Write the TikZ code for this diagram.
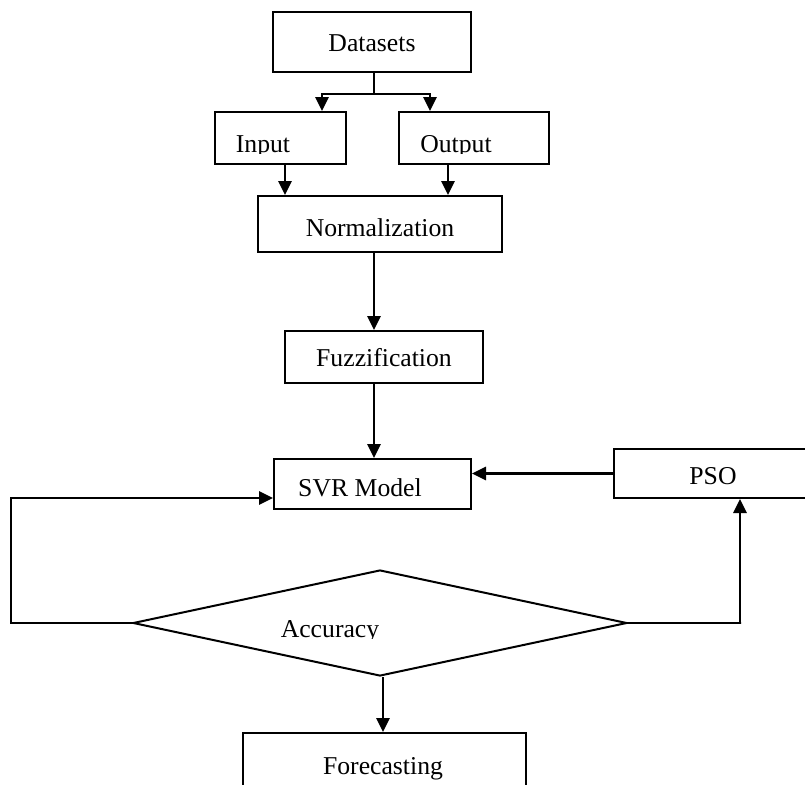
\documentclass[tikz,border=0pt]{standalone}
\usepackage{fontspec}
\setmainfont{Liberation Serif}
\usetikzlibrary{arrows.meta,shapes.geometric}
\begin{document}
\begin{tikzpicture}[x=1pt,y=-1pt,
  every node/.style={font=\fontsize{25.7}{30}\selectfont},
  box/.style={draw,line width=2pt,rectangle,inner sep=0pt},
  txt/.style={inner sep=0pt,anchor=base},
  arr/.style={line width=2.8pt,-{Triangle[width=13pt,length=14pt]}},
  ln/.style={line width=2.8pt}]
\useasboundingbox (0,0) rectangle (805,784);
\clip (0,0) rectangle (805,784);
% boxes
\node[box,minimum width=198,minimum height=60] (data) at (372,42) {};
\node[txt] (datat) at (372,52) {Datasets};
\node[box,minimum width=131,minimum height=52] (inp) at (280.5,138) {};
\node[box,minimum width=150,minimum height=52] (out) at (474,138) {};
\node[box,minimum width=244,minimum height=56] (norm) at (379.5,224) {};
\node[txt] (normt) at (380,236) {Normalization};
\node[box,minimum width=198,minimum height=52] (fuzz) at (384,357) {};
\node[txt] (fuzzt) at (384,366) {Fuzzification};
\node[box,minimum width=197,minimum height=50] (svr) at (372.5,484) {};
\node[txt] (svrt) at (360,496) {SVR Model};
\node[box,minimum width=200,minimum height=49] (pso) at (714,473.5) {};
\node[txt] (psot) at (713,484) {PSO};
\node[box,minimum width=283,minimum height=70] (fore) at (384.5,768) {};
\node[txt] (foret) at (383,774) {Forecasting};
\node[draw,line width=2pt,diamond,inner sep=0pt,minimum width=494,minimum height=106] (dia) at (380,623) {};
% clipped texts
\begin{scope}
\clip (216,113) rectangle (345,153.5);
\node[txt] (inpt) at (263,152) {Input};
\end{scope}
\begin{scope}
\clip (400,113) rectangle (548,153.5);
\node[txt] (outt) at (456,152) {Output};
\end{scope}
\begin{scope}
\clip (200,580) rectangle (560,638.5);
\node[txt] (acct) at (330,637) {Accuracy};
\end{scope}
% connectors
\coordinate (split) at ([yshift=-21]data.south);
\draw[ln] ([xshift=2]data.south) -- ([xshift=2]split);
\draw[arr] ([xshift=2]split) -| ([xshift=41.5]inp.north);
\draw[arr] ([xshift=2]split) -| ([xshift=-44]out.north);
\draw[arr] ([xshift=4.5]inp.south) -- ([xshift=4.5]inp.south |- norm.north);
\draw[arr] ([xshift=-26]out.south) -- ([xshift=-26]out.south |- norm.north);
\draw[arr] ([xshift=-5.5]norm.south) -- ([xshift=-5.5]norm.south |- fuzz.north);
\draw[arr] ([xshift=-10]fuzz.south) -- ([xshift=-10]fuzz.south |- svr.north);
\draw[arr] (pso.west) -- (pso.west -| svr.east);
\draw[arr] (dia.west) -- ++(-121,0) |- ([yshift=-14]svr.west);
\draw[arr] (dia.east) -- ++(113,0) -| ([xshift=26]pso.south);
\draw[arr] ([xshift=3]dia.south) -- ([xshift=3]dia.south |- fore.north);
\end{tikzpicture}
\end{document}
